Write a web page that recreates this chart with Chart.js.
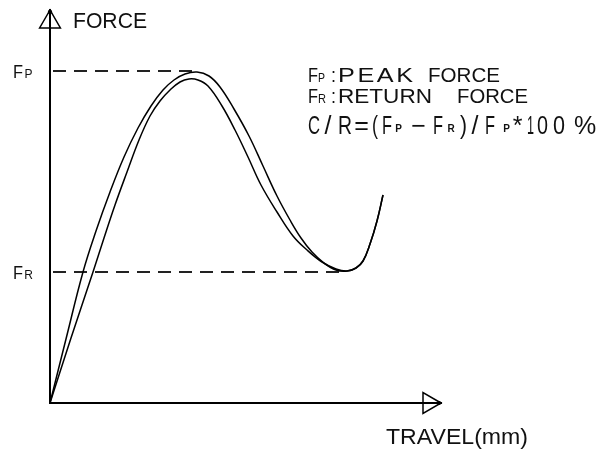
<!DOCTYPE html>
<html>
<head>
<meta charset="utf-8">
<script src="https://cdn.jsdelivr.net/npm/chart.js@4.4.1/dist/chart.umd.min.js"></script>
<style>
  html, body { margin: 0; padding: 0; background: #ffffff; }
  canvas { display: block; }
</style>
</head>
<body>
<canvas id="c" width="609" height="452"></canvas>
<script>
// ---- data (arbitrary units) ----
const travelPress  = [0, 0.16, 0.33, 0.46, 0.60, 0.74, 0.88, 1.01, 1.13, 1.24, 1.35, 1.47, 1.59, 1.70, 1.84, 1.99, 2.13, 2.27, 2.40, 2.51, 2.62, 2.74, 2.86, 2.97, 3.06, 3.13, 3.20, 3.27, 3.33];
const forcePress   = [0, 0.64, 1.31, 1.72, 2.11, 2.46, 2.75, 2.97, 3.13, 3.23, 3.29, 3.31, 3.27, 3.16, 2.94, 2.67, 2.37, 2.07, 1.83, 1.65, 1.51, 1.40, 1.33, 1.32, 1.35, 1.42, 1.59, 1.82, 2.08];
const travelReturn = [0, 0.21, 0.43, 0.54, 0.65, 0.77, 0.89, 1.00, 1.10, 1.20, 1.30, 1.39, 1.48, 1.58, 1.72, 1.85, 1.98, 2.11, 2.27, 2.43, 2.57, 2.72, 2.86, 2.97, 3.06, 3.13, 3.20, 3.27, 3.33];
const forceReturn  = [0, 0.65, 1.31, 1.65, 1.98, 2.31, 2.63, 2.87, 3.02, 3.13, 3.21, 3.24, 3.23, 3.17, 2.97, 2.73, 2.46, 2.18, 1.91, 1.67, 1.53, 1.41, 1.34, 1.32, 1.35, 1.42, 1.59, 1.82, 2.08];
const peakForce = 3.32;     // Fp
const returnForce = 1.31;   // Fr
const peakTravel = 1.45;    // where the Fp guide line ends
const returnTravel = 2.95;  // where the Fr guide line ends
const travelMax = 3.91;
const forceMax = 3.93;
const yTickLabels = [["F", "P"], ["F", "R"]];

const toPts = (xs, ys) => xs.map((x, i) => ({ x: x, y: ys[i] }));

const FONT = '"Liberation Sans", Arial, sans-serif';

// draw text fitted into a box of width w (mild widening + letter spreading, or compress if too wide)
function txt(ctx, s, x, y, size, w, weight) {
  ctx.font = (weight || 'normal') + ' ' + size + 'px ' + FONT;
  const m = ctx.measureText(s).width;
  const chars = Array.from(s);
  const k = chars.length === 1 ? Math.min(w / m, 1) : Math.min(w / m, 1.2);
  ctx.save();
  ctx.translate(x, y);
  ctx.scale(k, 1);
  if (chars.length === 1 || k < 1.2) {
    ctx.fillText(s, (w / k - m) / 2, 0);
  } else {
    const widths = chars.map(c => ctx.measureText(c).width);
    const sum = widths.reduce((p, q) => p + q, 0);
    const extra = (w / k - sum) / (chars.length - 1);
    let cx = 0;
    chars.forEach((c, i) => { ctx.fillText(c, cx, 0); cx += widths[i] + extra; });
  }
  ctx.restore();
}

const decor = {
  id: 'decor',
  afterDraw(chart) {
    const ctx = chart.ctx;
    const a = chart.chartArea;
    const ys = chart.scales.y;
    ctx.save();
    ctx.strokeStyle = '#000';
    ctx.fillStyle = '#000';
    ctx.lineWidth = 1.5;
    // y axis arrow (hollow triangle, pointing up)
    const r = 12;
    const ax = a.left, ay = a.top;
    ctx.beginPath();
    ctx.moveTo(ax, ay);
    ctx.lineTo(ax - r * 0.866, ay + 1.5 * r);
    ctx.lineTo(ax + r * 0.866, ay + 1.5 * r);
    ctx.closePath();
    ctx.fillStyle = '#fff';
    ctx.fill();
    ctx.stroke();
    ctx.beginPath();
    ctx.lineWidth = 2;
    ctx.moveTo(ax, ay);
    ctx.lineTo(ax, ay + 1.5 * r + 2);
    ctx.stroke();
    ctx.fillStyle = '#000';
    ctx.beginPath();
    ctx.arc(ax, ay + 2, 2.2, 0, Math.PI * 2);
    ctx.fill();
    // x axis arrow (hollow triangle, pointing right)
    const bx = a.right, by = a.bottom;
    ctx.lineWidth = 1.5;
    ctx.beginPath();
    ctx.moveTo(bx, by);
    ctx.lineTo(bx - 1.5 * r, by - r * 0.866);
    ctx.lineTo(bx - 1.5 * r, by + r * 0.866);
    ctx.closePath();
    ctx.fillStyle = '#fff';
    ctx.fill();
    ctx.stroke();
    ctx.beginPath();
    ctx.lineWidth = 2;
    ctx.moveTo(bx - 1.5 * r - 2, by);
    ctx.lineTo(bx, by);
    ctx.stroke();
    ctx.fillStyle = '#000';
    ctx.beginPath();
    ctx.arc(bx - 2, by, 2, 0, Math.PI * 2);
    ctx.fill();

    ctx.fillStyle = '#111';
    ctx.textBaseline = 'alphabetic';
    ctx.textAlign = 'left';
    // axis titles
    txt(ctx, 'FORCE', a.left + 23, a.top + 18, 22, 74);
    txt(ctx, 'TRAVEL(mm)', a.right - 55, a.bottom + 41, 22, 142);
    // y tick labels
    [peakForce, returnForce].forEach((v, i) => {
      const py = ys.getPixelForValue(v);
      txt(ctx, yTickLabels[i][0], a.left - 37, py + 7, 18, 10);
      txt(ctx, yTickLabels[i][1], a.left - 26, py + 7, 12, 9);
    });
    // explanation block
    const L = a.left + 258;
    txt(ctx, 'F', L, 82, 21, 10);
    txt(ctx, 'P', L + 10, 82, 13, 7);
    txt(ctx, ':', L + 23, 82, 21, 5);
    txt(ctx, 'PEAK', L + 30, 82, 21, 75);
    txt(ctx, 'FORCE', L + 120, 82, 21, 72);
    txt(ctx, 'F', L, 103, 21, 10);
    txt(ctx, 'R', L + 10, 103, 13, 8);
    txt(ctx, ':', L + 23, 103, 21, 5);
    txt(ctx, 'RETURN', L + 30, 103, 21, 94);
    txt(ctx, 'FORCE', L + 149, 103, 21, 71);
    const b3 = 134;
    txt(ctx, 'C', L, b3, 25, 12);
    txt(ctx, '/', L + 15, b3, 25, 10);
    txt(ctx, 'R', L + 30, b3, 25, 14);
    txt(ctx, '=', L + 45, b3, 25, 17);
    txt(ctx, '(', L + 64, b3, 25, 6);
    txt(ctx, 'F', L + 74, b3, 25, 10);
    txt(ctx, 'P', L + 87, b3 - 2, 10, 7, 'bold');
    txt(ctx, '\u2212', L + 102, b3, 25, 17);
    txt(ctx, 'F', L + 125, b3, 25, 10);
    txt(ctx, 'R', L + 139, b3 - 2, 10, 8, 'bold');
    txt(ctx, ')', L + 152, b3, 25, 7);
    txt(ctx, '/', L + 162, b3, 25, 10);
    txt(ctx, 'F', L + 177, b3, 25, 10);
    txt(ctx, 'P', L + 195, b3 - 2, 10, 7, 'bold');
    txt(ctx, '*', L + 204, b3, 25, 11);
    txt(ctx, '1', L + 219, b3, 25, 7);
    txt(ctx, '0', L + 229, b3, 25, 11);
    txt(ctx, '0', L + 245, b3, 25, 12);
    txt(ctx, '%', L + 262, b3, 25, 30);
    ctx.restore();
  }
};

new Chart(document.getElementById('c'), {
  type: 'scatter',
  data: {
    datasets: [
      { data: toPts(travelPress, forcePress), showLine: true, borderColor: '#000', borderWidth: 1.5, pointRadius: 0, tension: 0.4, fill: false },
      { data: toPts(travelReturn, forceReturn), showLine: true, borderColor: '#000', borderWidth: 1.5, pointRadius: 0, tension: 0.4, fill: false },
      { data: [{ x: 0, y: peakForce }, { x: peakTravel, y: peakForce }], showLine: true, borderColor: '#222', borderWidth: 2, borderDash: [13, 8], borderDashOffset: -3, pointRadius: 0 },
      { data: [{ x: 0, y: returnForce }, { x: returnTravel, y: returnForce }], showLine: true, borderColor: '#222', borderWidth: 2, borderDash: [13, 8], borderDashOffset: -3, pointRadius: 0 }
    ]
  },
  options: {
    responsive: false,
    animation: false,
    events: [],
    layout: { autoPadding: false, padding: { left: 50, top: 10, right: 168, bottom: 49 } },
    plugins: { legend: { display: false }, tooltip: { enabled: false } },
    scales: {
      x: { type: 'linear', min: 0, max: travelMax, grid: { display: false, drawTicks: false }, ticks: { display: false }, border: { display: true, color: '#000', width: 2 } },
      y: { type: 'linear', min: 0, max: forceMax, grid: { display: false, drawTicks: false }, ticks: { display: false }, border: { display: true, color: '#000', width: 2 } }
    }
  },
  plugins: [decor]
});
</script>
</body>
</html>
